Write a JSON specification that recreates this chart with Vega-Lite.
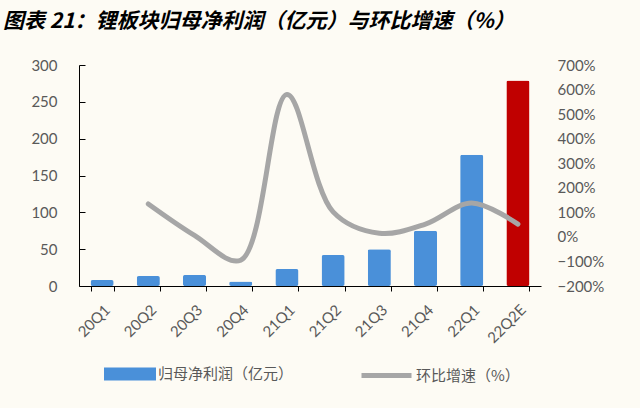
{
  "$schema": "https://vega.github.io/schema/vega-lite/v6.json",
  "width": 462,
  "height": 221,
  "autosize": {"type": "none"},
  "padding": {"left": 79, "top": 65, "right": 99, "bottom": 122},
  "background": "#fdfbf4",
  "title": {
    "text": "图表 21：锂板块归母净利润（亿元）与环比增速（%）",
    "anchor": "start",
    "frame": "group",
    "dx": -76,
    "offset": 26,
    "font": "Noto Sans CJK SC",
    "fontSize": 21,
    "fontWeight": "bold",
    "fontStyle": "italic",
    "color": "#000000"
  },
  "config": {
    "view": {"stroke": null},
    "axis": {"labelFont": "Lato", "labelColor": "#595959", "grid": false, "title": null}
  },
  "data": {
    "values": [
      {"q": "20Q1", "profit": 8, "growth": null, "s1": "归母净利润（亿元）", "s2": "环比增速（%）"},
      {"q": "20Q2", "profit": 13.5, "growth": 1.34, "s1": "归母净利润（亿元）", "s2": "环比增速（%）"},
      {"q": "20Q3", "profit": 15, "growth": 0.06, "s1": "归母净利润（亿元）", "s2": "环比增速（%）"},
      {"q": "20Q4", "profit": 6, "growth": -0.95, "s1": "归母净利润（亿元）", "s2": "环比增速（%）"},
      {"q": "21Q1", "profit": 23, "growth": 5.8, "s1": "归母净利润（亿元）", "s2": "环比增速（%）"},
      {"q": "21Q2", "profit": 42, "growth": 1.02, "s1": "归母净利润（亿元）", "s2": "环比增速（%）"},
      {"q": "21Q3", "profit": 50, "growth": 0.15, "s1": "归母净利润（亿元）", "s2": "环比增速（%）"},
      {"q": "21Q4", "profit": 75, "growth": 0.52, "s1": "归母净利润（亿元）", "s2": "环比增速（%）"},
      {"q": "22Q1", "profit": 178, "growth": 1.38, "s1": "归母净利润（亿元）", "s2": "环比增速（%）"},
      {"q": "22Q2E", "profit": 279, "growth": 0.52, "s1": "归母净利润（亿元）", "s2": "环比增速（%）"}
    ]
  },
  "encoding": {
    "x": {
      "field": "q",
      "type": "nominal",
      "sort": null,
      "scale": {"paddingInner": 0.5, "paddingOuter": 0.25},
      "axis": {
        "labelAngle": -45,
        "labelFontSize": 15,
        "labelPadding": 11,
        "domainColor": "#000000",
        "tickColor": "#000000",
        "tickSize": 5,
        "tickBand": "extent"
      }
    }
  },
  "layer": [
    {
      "mark": {"type": "bar", "cornerRadius": 2},
      "encoding": {
        "y": {
          "field": "profit",
          "type": "quantitative",
          "scale": {"domain": [0, 300], "nice": false},
          "axis": {
            "values": [0, 50, 100, 150, 200, 250, 300],
            "labelFontSize": 15,
            "tickSize": -6,
            "labelPadding": 28,
            "domainColor": "#000000",
            "tickColor": "#000000"
          }
        },
        "fill": {
          "condition": {"test": "datum.q === '22Q2E'", "value": "#c00000"},
          "field": "s1",
          "type": "nominal",
          "scale": {"range": ["#4a90d9"]},
          "legend": {
            "orient": "none",
            "legendX": 25,
            "legendY": 283,
            "title": null,
            "symbolType": "M-1,-0.25H1V0.25H-1Z",
            "symbolSize": 2704,
            "symbolStrokeWidth": 0,
            "labelFont": "Noto Sans CJK SC",
            "labelFontSize": 15,
            "labelColor": "#595959",
            "labelOffset": 2
          }
        }
      }
    },
    {
      "transform": [{"filter": "datum.growth != null"}],
      "mark": {"type": "line", "interpolate": "catmull-rom", "strokeWidth": 5, "strokeCap": "round"},
      "encoding": {
        "y": {
          "field": "growth",
          "type": "quantitative",
          "scale": {"domain": [-2, 7], "nice": false},
          "axis": {
            "orient": "right",
            "values": [-2, -1, 0, 1, 2, 3, 4, 5, 6, 7],
            "format": ".0%",
            "labelFontSize": 15,
            "domain": false,
            "ticks": false,
            "labelPadding": 16
          }
        },
        "stroke": {
          "field": "s2",
          "type": "nominal",
          "scale": {"range": ["#a6a6a6"]},
          "legend": {
            "orient": "none",
            "legendX": 280,
            "legendY": 283,
            "title": null,
            "symbolType": "stroke",
            "symbolSize": 2500,
            "symbolStrokeWidth": 5,
            "labelFont": "Noto Sans CJK SC",
            "labelFontSize": 15,
            "labelColor": "#595959",
            "labelOffset": 2
          }
        }
      }
    }
  ],
  "resolve": {"scale": {"y": "independent"}}
}
